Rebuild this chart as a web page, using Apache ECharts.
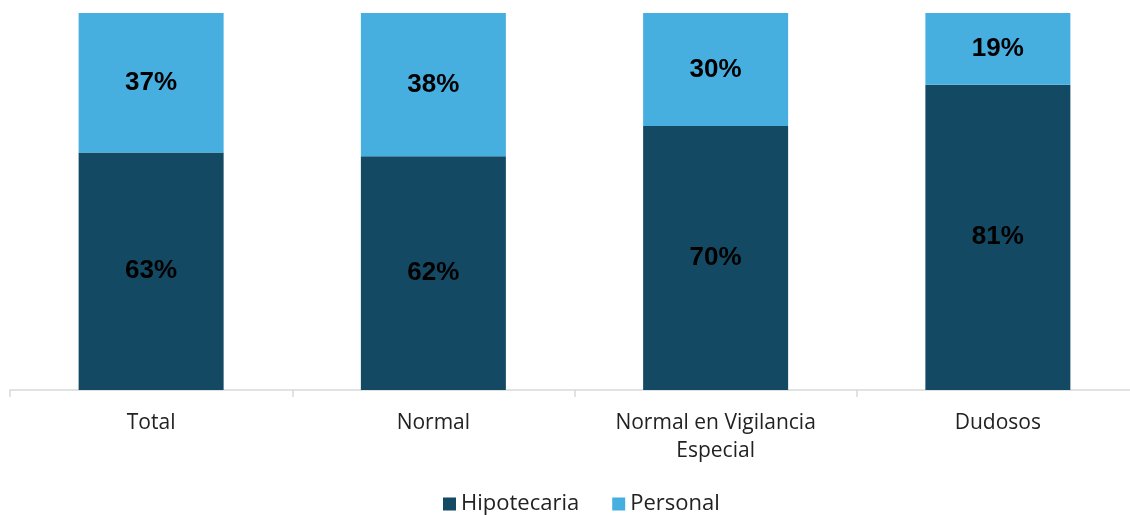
<!DOCTYPE html>
<html>
<head>
<meta charset="utf-8">
<script src="https://cdn.jsdelivr.net/npm/echarts@6/dist/echarts.min.js"></script>
<style>html,body{margin:0;padding:0;background:#fff;overflow:hidden}#c{width:1140px;height:515px}</style>
</head>
<body>
<div id="c"></div>
<script>
const categories = ['Total', 'Normal', 'Normal en Vigilancia\nEspecial', 'Dudosos'];
const hipotecaria = [63, 62, 70, 81];
const personal = [37, 38, 30, 19];

const chart = echarts.init(document.getElementById('c'), null, {renderer: 'canvas'});
const labelStyle = {
  show: true, position: 'inside', formatter: '{c}%',
  color: '#000', fontFamily: 'Liberation Sans, Arial, sans-serif', fontWeight: 'bold', fontSize: 26
};
chart.setOption({
  animation: false,
  grid: {left: 10, right: 1, top: 13, bottom: 125, containLabel: false},
  legend: {
    top: 488, left: 438, itemWidth: 13, itemHeight: 13, itemGap: 33,
    icon: 'rect',
    textStyle: {fontFamily: 'Open Sans, sans-serif', fontSize: 22, color: '#222', padding: [0, 0, 0, 0]},
    data: ['Hipotecaria', 'Personal']
  },
  xAxis: {
    type: 'category', data: categories,
    axisLine: {lineStyle: {color: '#d9d9d9', width: 1.5}},
    axisTick: {show: true, length: 7, lineStyle: {color: '#d9d9d9', width: 1.5}},
    axisLabel: {fontFamily: 'Open Sans, sans-serif', fontSize: 21, color: '#222', margin: 19, lineHeight: 28}
  },
  yAxis: {type: 'value', min: 0, max: 100, show: false, splitLine: {show: false}},
  series: [
    {name: 'Hipotecaria', type: 'bar', stack: 's', data: hipotecaria, barWidth: 145,
     itemStyle: {color: '#134963'}, label: labelStyle},
    {name: 'Personal', type: 'bar', stack: 's', data: personal, barWidth: 145,
     itemStyle: {color: '#47AEE0'}, label: labelStyle}
  ]
});
</script>
</body>
</html>
